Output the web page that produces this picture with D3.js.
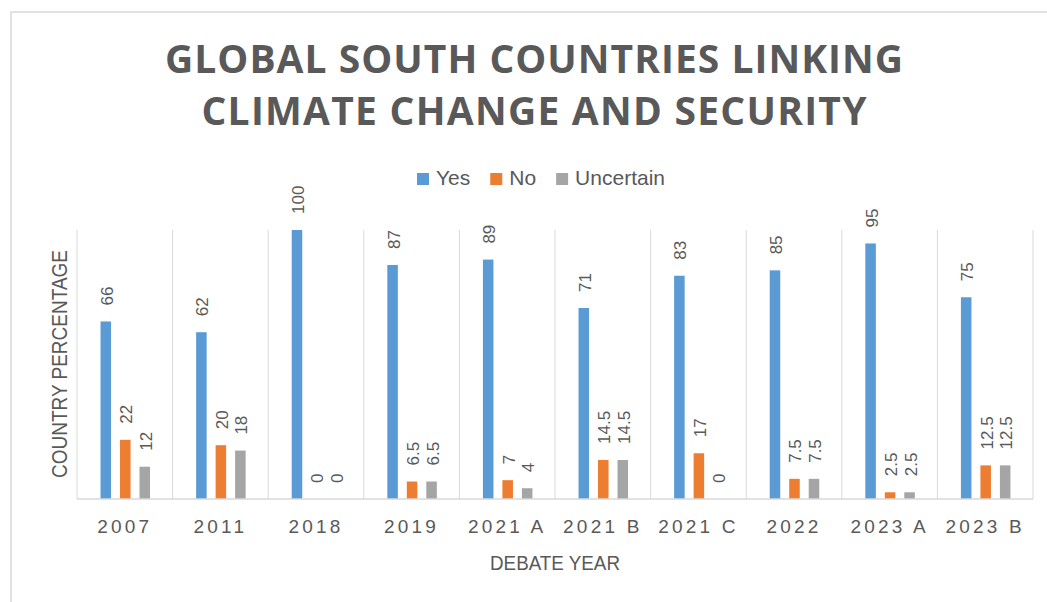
<!DOCTYPE html>
<html>
<head>
<meta charset="utf-8">
<script src="https://cdn.jsdelivr.net/npm/d3@7"></script>
<style>
  html, body { margin: 0; padding: 0; background: #fff; }
  svg { display: block; }
</style>
</head>
<body>
<svg id="chart" width="1047" height="602"></svg>
<script>
// Debate labels along the x axis
const categories = ["2007", "2011", "2018", "2019", "2021 A", "2021 B", "2021 C", "2022", "2023 A", "2023 B"];
// Share of Global South countries (%) per answer
const yesValues       = [66, 62, 100, 87, 89, 71, 83, 85, 95, 75];
const noValues        = [22, 20, 0, 6.5, 7, 14.5, 17, 7.5, 2.5, 12.5];
const uncertainValues = [12, 18, 0, 6.5, 4, 14.5, 0, 7.5, 2.5, 12.5];
const seriesNames = ["Yes", "No", "Uncertain"];
const seriesColors = ["#5b9bd5", "#ed7d31", "#a5a5a5"];

const titleLines = ["GLOBAL SOUTH COUNTRIES LINKING", "CLIMATE CHANGE AND SECURITY"];
const xTitle = "DEBATE YEAR";
const yTitle = "COUNTRY PERCENTAGE";

const series = [yesValues, noValues, uncertainValues];
const rows = categories.map((c, i) => ({
  cat: c,
  vals: seriesNames.map((s, j) => ({ key: s, value: series[j][i], idx: j }))
}));

const svg = d3.select("#chart");
const textColor = "#595959";
const gridColor = "#d9d9d9";

// chart frame
svg.append("path")
  .attr("d", "M11,602 V12 H1047")
  .attr("fill", "none").attr("stroke", "#d9d9d9").attr("stroke-width", 1.5);

const plot = { left: 77, right: 1033, top: 230, bottom: 499 };

const x0 = d3.scaleBand().domain(categories).range([plot.left, plot.right]).padding(0);
const bw = x0.bandwidth();
const x1 = d3.scaleBand().domain(seriesNames)
  .range([bw * 0.246, bw * 0.764]).paddingInner(0.46).paddingOuter(0);
const y = d3.scaleLinear().domain([0, 100]).range([plot.bottom, plot.top]);

// stretch or space text to a given length
function fit(sel, target) {
  sel.each(function () {
    const w = this.getComputedTextLength();
    d3.select(this).attr("textLength", target)
      .attr("lengthAdjust", w < target ? "spacing" : "spacingAndGlyphs");
  });
}

// title
const titleBaselines = [73, 125];
const titleWidths = [738, 665];
titleLines.forEach((t, i) => {
  svg.append("text")
    .attr("x", 534).attr("y", titleBaselines[i])
    .attr("text-anchor", "middle")
    .attr("font-family", "'Open Sans', 'Liberation Sans', sans-serif")
    .attr("font-weight", 700).attr("font-size", 39)
    .attr("fill", textColor)
    .text(t)
    .call(fit, titleWidths[i]);
});

// legend
const legend = svg.append("g").attr("font-family", "'Liberation Sans', Arial, sans-serif").attr("font-size", 21);
let lx = 0;
seriesNames.forEach((s, j) => {
  const g = legend.append("g").attr("transform", `translate(${lx},0)`);
  g.append("rect").attr("x", 0).attr("y", -12).attr("width", 12).attr("height", 12).attr("fill", seriesColors[j]);
  const t = g.append("text").attr("x", 19).attr("y", 0).attr("fill", textColor).text(s);
  const w = t.node().getComputedTextLength();
  lx += 19 + w + 20;
});
const legendWidth = lx - 20;
legend.attr("transform", `translate(${541 - legendWidth / 2},185)`);

// vertical category separators
const grid = svg.append("g");
const bounds = categories.map(c => x0(c)).concat([plot.right]);
grid.selectAll("line.sep").data(bounds).join("line")
  .attr("class", "sep")
  .attr("x1", d => d).attr("x2", d => d)
  .attr("y1", plot.top).attr("y2", plot.bottom)
  .attr("stroke", gridColor).attr("stroke-width", 1);

// bars
const groups = svg.append("g").selectAll("g.cat").data(rows).join("g")
  .attr("class", "cat")
  .attr("transform", d => `translate(${x0(d.cat)},0)`);

groups.selectAll("rect").data(d => d.vals).join("rect")
  .attr("x", d => x1(d.key))
  .attr("y", d => y(d.value))
  .attr("width", x1.bandwidth())
  .attr("height", d => y(0) - y(d.value))
  .attr("fill", d => seriesColors[d.idx]);

// value labels, rotated
groups.selectAll("text").data(d => d.vals).join("text")
  .attr("transform", d => `translate(${x1(d.key) + x1.bandwidth() / 2 + 1},${y(d.value) - 16}) rotate(-90)`)
  .attr("dy", "0.35em")
  .attr("text-anchor", "start")
  .attr("font-family", "'Liberation Sans', Arial, sans-serif")
  .attr("font-size", 17)
  .attr("fill", textColor)
  .text(d => d.value);

// x axis baseline
svg.append("line")
  .attr("x1", plot.left).attr("x2", plot.right)
  .attr("y1", plot.bottom).attr("y2", plot.bottom)
  .attr("stroke", gridColor).attr("stroke-width", 1.5);

// x axis tick labels
const xAxis = d3.axisBottom(x0).tickSize(0).tickPadding(0);
const xg = svg.append("g").attr("transform", `translate(0,${plot.bottom})`).call(xAxis);
xg.select(".domain").remove();
xg.selectAll("text")
  .attr("y", 34).attr("dy", 0)
  .attr("font-family", "'Liberation Sans', Arial, sans-serif")
  .attr("font-size", 19)
  .attr("letter-spacing", 3.2)
  .attr("fill", textColor);

// axis titles
svg.append("text")
  .attr("x", 555).attr("y", 570)
  .attr("text-anchor", "middle")
  .attr("font-family", "'Liberation Sans', Arial, sans-serif")
  .attr("font-size", 20)
  .attr("fill", textColor)
  .text(xTitle)
  .call(fit, 130);

svg.append("text")
  .attr("transform", "translate(66.5,364) rotate(-90)")
  .attr("text-anchor", "middle")
  .attr("font-family", "'Liberation Sans', Arial, sans-serif")
  .attr("font-size", 22)
  .attr("fill", textColor)
  .text(yTitle)
  .call(fit, 228);
</script>
</body>
</html>
